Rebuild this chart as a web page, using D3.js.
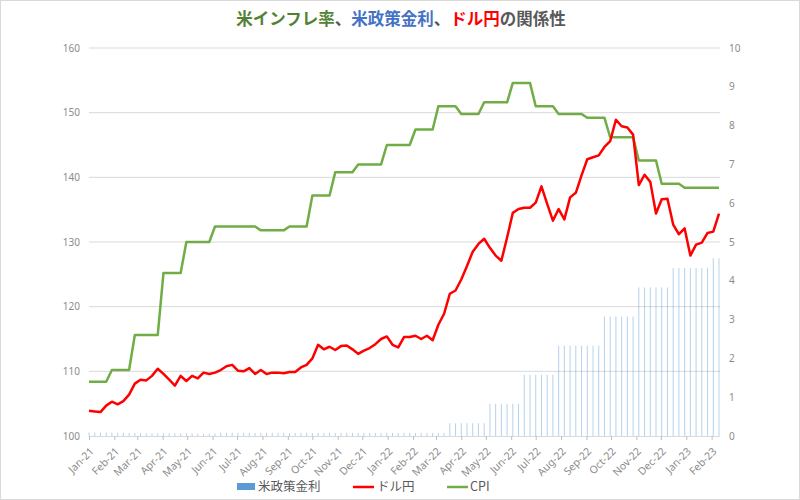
<!DOCTYPE html>
<html><head><meta charset="utf-8">
<script src="https://cdn.jsdelivr.net/npm/d3@7/dist/d3.min.js"></script>
<style>
body{margin:0;background:#fff;}
svg{font-family:"Noto Sans CJK JP","Noto Sans",sans-serif;}
</style></head>
<body><svg id="c" width="800" height="500"></svg>
<script>
// weekly observations (Fridays) from 2021-01-01 to 2023-02-10
const startDate = "2021-01-01";
const weekCount = 111;
const usdjpy = [103.9,103.8,103.7,104.7,105.3,104.9,105.4,106.4,108.1,108.7,108.6,109.3,110.4,109.6,108.7,107.8,109.3,108.5,109.3,108.9,
109.8,109.6,109.8,110.2,110.8,111.0,110.1,110.0,110.5,109.6,110.2,109.6,109.8,109.8,109.7,109.9,109.9,110.6,111.0,112.0,
114.1,113.4,113.8,113.3,113.9,114.0,113.4,112.7,113.2,113.6,114.2,115.0,115.4,114.1,113.7,115.3,115.3,115.5,115.0,115.5,
114.8,117.2,118.9,122.0,122.5,124.2,126.3,128.5,129.7,130.5,129.1,127.9,127.1,130.7,134.5,135.1,135.3,135.3,136.1,138.6,
135.9,133.3,135.1,133.5,136.9,137.6,140.3,142.8,143.1,143.4,144.7,145.6,148.9,147.9,147.7,146.6,138.8,140.4,139.3,134.4,
136.6,136.7,132.7,131.2,132.1,127.9,129.6,129.9,131.4,131.6,134.4];
const cpi = [1.4,1.4,1.4,1.4,1.7,1.7,1.7,1.7,2.6,2.6,2.6,2.6,2.6,4.2,4.2,4.2,4.2,5.0,5.0,5.0,
5.0,5.0,5.4,5.4,5.4,5.4,5.4,5.4,5.4,5.4,5.3,5.3,5.3,5.3,5.3,5.4,5.4,5.4,5.4,6.2,
6.2,6.2,6.2,6.8,6.8,6.8,6.8,7.0,7.0,7.0,7.0,7.0,7.5,7.5,7.5,7.5,7.5,7.9,7.9,7.9,
7.9,8.5,8.5,8.5,8.5,8.3,8.3,8.3,8.3,8.6,8.6,8.6,8.6,8.6,9.1,9.1,9.1,9.1,8.5,8.5,
8.5,8.5,8.3,8.3,8.3,8.3,8.3,8.2,8.2,8.2,8.2,7.7,7.7,7.7,7.7,7.7,7.1,7.1,7.1,7.1,
6.5,6.5,6.5,6.5,6.4,6.4,6.4,6.4,6.4,6.4,6.4];
const fedRate = [0.09,0.09,0.09,0.09,0.09,0.08,0.08,0.08,0.08,0.07,0.07,0.07,0.07,0.07,0.07,0.07,0.07,0.07,0.07,0.06,
0.06,0.06,0.06,0.08,0.08,0.08,0.08,0.08,0.08,0.08,0.08,0.08,0.08,0.08,0.08,0.08,0.08,0.08,0.08,0.08,
0.08,0.08,0.08,0.08,0.08,0.08,0.08,0.08,0.08,0.08,0.08,0.08,0.08,0.08,0.08,0.08,0.08,0.08,0.08,0.08,
0.08,0.08,0.08,0.33,0.33,0.33,0.33,0.33,0.33,0.33,0.83,0.83,0.83,0.83,0.83,0.83,1.58,1.58,1.58,1.58,
1.58,1.58,2.33,2.33,2.33,2.33,2.33,2.33,2.33,2.33,3.08,3.08,3.08,3.08,3.08,3.08,3.83,3.83,3.83,3.83,
3.83,3.83,4.33,4.33,4.33,4.33,4.33,4.33,4.33,4.58,4.58];
const leftTicks = [100,110,120,130,140,150,160];
const rightTicks = [0,1,2,3,4,5,6,7,8,9,10];
const seriesNames = ["米政策金利","ドル円","CPI"];

const t0 = d3.timeParse("%Y-%m-%d")(startDate);
const dates = d3.range(weekCount).map(i => d3.timeDay.offset(t0, 7*i));

const svg = d3.select("#c");
svg.append("rect").attr("x",0.5).attr("y",0.5).attr("width",799).attr("height",499)
  .attr("fill","#fff").attr("stroke","#d9d9d9");

const L = 89, R = 719, T = 48, B = 436;
const x = d3.scaleTime().domain([dates[0], dates[dates.length-1]]).range([L, R]);
const yL = d3.scaleLinear().domain([100,160]).range([B, T]);
const yR = d3.scaleLinear().domain([0,10]).range([B, T]);

// gridlines
svg.append("g").selectAll("line").data(leftTicks.slice(1)).join("line")
  .attr("x1",L).attr("x2",R+1).attr("y1",d=>yL(d)).attr("y2",d=>yL(d))
  .attr("stroke","#d9d9d9").attr("stroke-width",1);

// left axis labels
svg.append("g").selectAll("text").data(leftTicks).join("text")
  .attr("x",80).attr("y",d=>yL(d)+3.5).attr("text-anchor","end")
  .attr("font-size",10).attr("fill","#8c8c8c").attr("font-family","Noto Sans, sans-serif").text(d=>d);
// right axis labels
svg.append("g").selectAll("text").data(rightTicks).join("text")
  .attr("x",729).attr("y",d=>yR(d)+3.5).attr("text-anchor","start")
  .attr("font-size",10).attr("fill","#8c8c8c").attr("font-family","Noto Sans, sans-serif").text(d=>d);

// bars
svg.append("g").selectAll("rect").data(fedRate).join("rect")
  .attr("x",(d,i)=>x(dates[i])-0.5).attr("width",1)
  .attr("y",d=>yR(d)).attr("height",d=>yR(0)-yR(d))
  .attr("fill","#5b9bd5").attr("opacity",0.45);

// x axis
const months = d3.timeMonth.range(d3.timeParse("%Y-%m-%d")("2021-01-01"), d3.timeParse("%Y-%m-%d")("2023-02-02"));
const xAxis = svg.append("g").attr("transform",`translate(0,${B})`)
  .call(d3.axisBottom(x).tickValues(months).tickFormat(d3.timeFormat("%b-%y")).tickSize(4).tickSizeOuter(0));
xAxis.select(".domain").attr("stroke","#d9d9d9");
xAxis.selectAll(".tick line").attr("stroke","#bfbfbf");
xAxis.selectAll(".tick text").attr("fill","#8c8c8c").attr("font-size",10.5)
  .attr("font-family","Noto Sans, sans-serif")
  .attr("text-anchor","end").attr("x",0).attr("y",0).attr("dx",0).attr("dy",0)
  .attr("transform","translate(5,16) rotate(-45)");

// lines
const lineCpi = d3.line().x((d,i)=>x(dates[i])).y(d=>yR(d));
const lineJpy = d3.line().x((d,i)=>x(dates[i])).y(d=>yL(d));
svg.append("path").datum(cpi).attr("d",lineCpi).attr("fill","none")
  .attr("stroke","#70ad47").attr("stroke-width",2.5).attr("stroke-linejoin","round");
svg.append("path").datum(usdjpy).attr("d",lineJpy).attr("fill","none")
  .attr("stroke","#ff0000").attr("stroke-width",2.5).attr("stroke-linejoin","round");

// title
const title = svg.append("text").attr("x",401).attr("y",25).attr("text-anchor","middle")
  .attr("font-size",16.5).attr("font-weight","bold");
[["米インフレ率","#548235"],["、","#595959"],["米政策金利","#4472c4"],["、","#595959"],["ドル円","#ff0000"],["の関係性","#595959"]]
  .forEach(([t,c])=>title.append("tspan").attr("fill",c).text(t));

// legend
const lg = svg.append("g").attr("font-size",12.5).attr("fill","#595959");
lg.append("rect").attr("x",237).attr("y",483).attr("width",18).attr("height",7).attr("fill","#5b9bd5");
lg.append("text").attr("x",258).attr("y",491).text(seriesNames[0]);
lg.append("line").attr("x1",353).attr("x2",374).attr("y1",487).attr("y2",487).attr("stroke","#ff0000").attr("stroke-width",2.5);
lg.append("text").attr("x",377).attr("y",491).text(seriesNames[1]);
lg.append("line").attr("x1",447).attr("x2",468).attr("y1",487).attr("y2",487).attr("stroke","#70ad47").attr("stroke-width",2.5);
lg.append("text").attr("x",470).attr("y",491).text(seriesNames[2]);
</script></body></html>
